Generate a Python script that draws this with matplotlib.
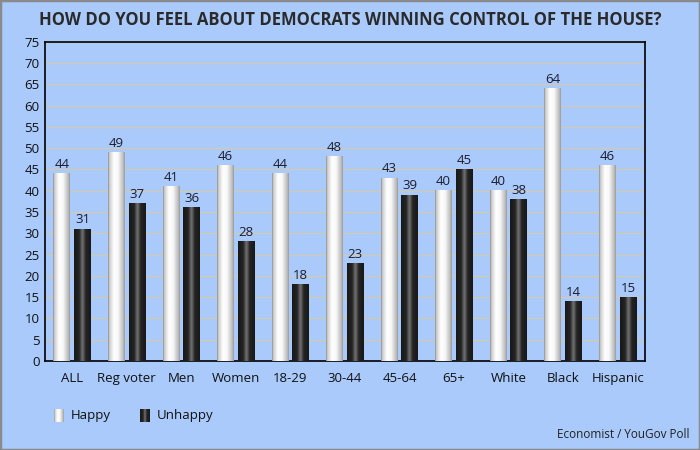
import numpy as np
import matplotlib
matplotlib.use("Agg")
import matplotlib.pyplot as plt
from matplotlib.patches import Rectangle

plt.rcParams['font.family'] = ['Open Sans', 'DejaVu Sans']

groups = ["ALL", "Reg voter", "Men", "Women", "18-29", "30-44", "45-64",
          "65+", "White", "Black", "Hispanic"]
happy = [44, 49, 41, 46, 44, 48, 43, 40, 40, 64, 46]
unhappy = [31, 37, 36, 28, 18, 23, 39, 45, 38, 14, 15]
title = "HOW DO YOU FEEL ABOUT DEMOCRATS WINNING CONTROL OF THE HOUSE?"
source = "Economist / YouGov Poll"

bg = "#a9cafb"

# horizontal shading across each bar (left -> right)
t = np.linspace(0, 1, 64)
happy_grad = np.interp(t, [0, 0.08, 0.35, 0.6, 0.92, 1], [0.55, 0.8, 1.0, 0.97, 0.72, 0.6])
unhappy_grad = np.interp(t, [0, 0.3, 0.5, 0.7, 1], [0.1, 0.14, 0.45, 0.14, 0.1])

fig = plt.figure(figsize=(7, 4.5), dpi=100, facecolor=bg)
ax = fig.add_axes([0.0643, 0.198, 0.857, 0.709])
ax.set_facecolor(bg)

x = np.arange(len(groups))
w = 0.31
off = 0.19

def gradient_bar(xc, h, grad):
    ax.imshow(grad[np.newaxis, :], cmap="gray", vmin=0, vmax=1, aspect="auto",
              extent=(xc - w / 2, xc + w / 2, 0, h), zorder=3, interpolation="bilinear")

for i in range(len(groups)):
    gradient_bar(x[i] - off, happy[i], happy_grad)
    gradient_bar(x[i] + off, unhappy[i], unhappy_grad)
    ax.text(x[i] - off, happy[i] + 0.6, str(happy[i]), ha="center", va="bottom",
            fontsize=9.5, color="#1c1c2c", zorder=4)
    ax.text(x[i] + off, unhappy[i] + 0.6, str(unhappy[i]), ha="center", va="bottom",
            fontsize=9.5, color="#1c1c2c", zorder=4)

ax.set_xlim(-0.5, len(groups) - 0.5)
ax.set_ylim(0, 75)
ax.set_yticks(range(0, 76, 5))
ax.set_xticks(x)
ax.set_xticklabels(groups)
ax.tick_params(axis="both", length=0, labelsize=9.5, colors="#111111", pad=4)
ax.tick_params(axis="x", pad=8)
ax.grid(axis="y", color="#cfcab8", linewidth=1, zorder=1)
ax.set_axisbelow(True)
for s in ax.spines.values():
    s.set_color("black")
    s.set_linewidth(1.2)

fig.text(0.5, 0.955, title, ha="center", va="center", fontsize=12,
         fontweight="bold", color="#2a2a2a")
fig.text(0.985, 0.02, source, ha="right", va="bottom", fontsize=8.5, color="#222222")

# legend
for lx, grad, lab in [(0.077, happy_grad, "Happy"), (0.2, unhappy_grad, "Unhappy")]:
    lax = fig.add_axes([lx, 0.063, 0.013, 0.028])
    lax.imshow(grad[np.newaxis, :], cmap="gray", vmin=0, vmax=1, aspect="auto",
               interpolation="bilinear")
    lax.axis("off")
    fig.text(lx + 0.024, 0.077, lab, ha="left", va="center", fontsize=9.5, color="#111111")

fig.add_artist(Rectangle((0, 0), 1, 1, transform=fig.transFigure, fill=False,
                         edgecolor="#8a8a8a", linewidth=2.5))

fig.savefig("out.png", dpi=100, facecolor=bg)
